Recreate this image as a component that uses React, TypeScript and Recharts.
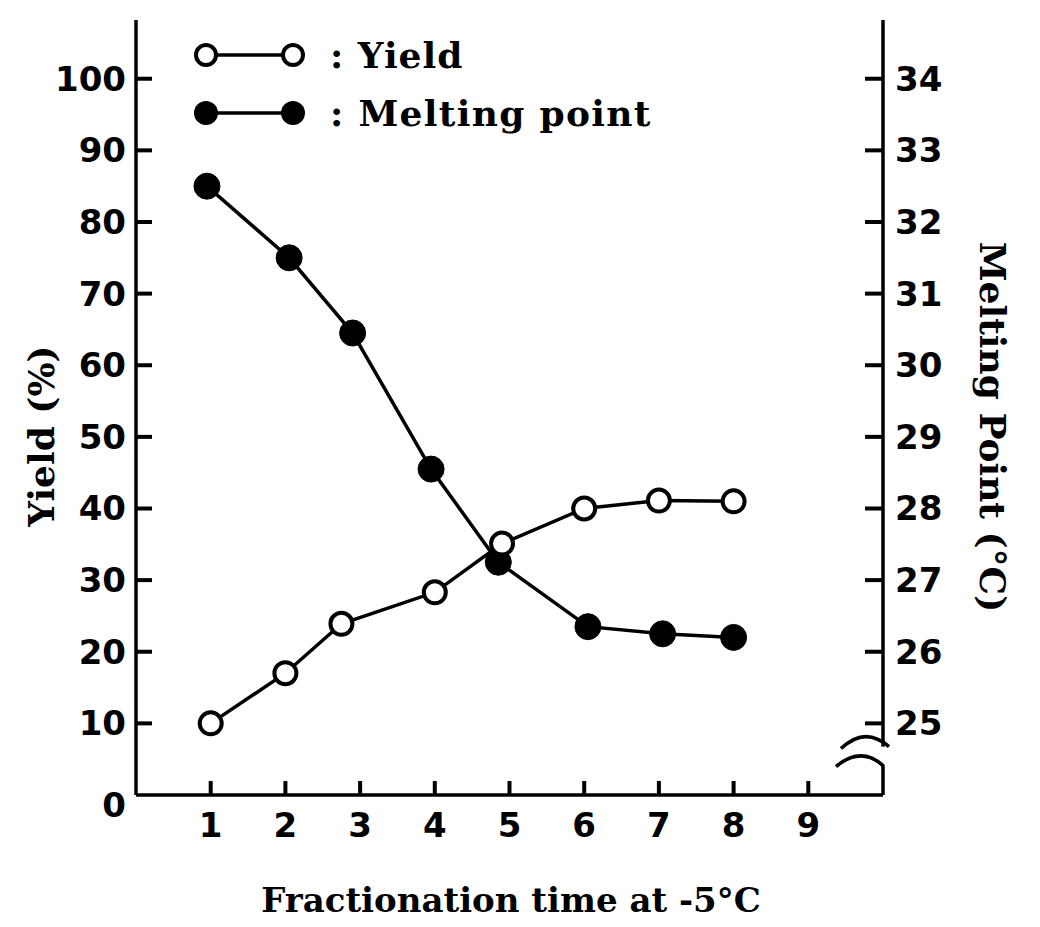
import React from 'react';
import { LineChart, Line, XAxis, YAxis, Legend, ReferenceDot, Customized } from 'recharts';

// ---- data ----
const yieldTimes = [1, 2, 2.75, 4, 4.9, 6, 7, 8];
const yieldValues = [10, 17, 23.9, 28.3, 35.1, 40, 41.1, 41];
const meltTimes = [0.95, 2.05, 2.9, 3.95, 4.85, 6.05, 7.05, 8];
const meltValues = [32.5, 31.5, 30.45, 28.55, 27.25, 26.35, 26.25, 26.2];

const xTicks = [1, 2, 3, 4, 5, 6, 7, 8, 9];
const yieldTicks = [0, 10, 20, 30, 40, 50, 60, 70, 80, 90, 100];
const meltTicks = [25, 26, 27, 28, 29, 30, 31, 32, 33, 34];

const yieldData = yieldTimes.map((t, i) => ({ time: t, yield: yieldValues[i] }));
const meltData = meltTimes.map((t, i) => ({ time: t, melt: meltValues[i] }));

const NUM_FONT = "'DejaVu Sans', sans-serif";
const SERIF_FONT = "'DejaVu Serif', serif";
const INK = '#000';

const LeftTick = (props: any) => {
  const x = Number(props.x);
  const y = Number(props.y);
  const v = props.payload.value;
  return (
    <text x={x - 10} y={v === 0 ? y + 10 : y} textAnchor="end" dominantBaseline="central"
      fontFamily={NUM_FONT} fontWeight="bold" fontSize={34} fill={INK}>{v}</text>
  );
};

const RightTick = (props: any) => {
  const x = Number(props.x);
  const y = Number(props.y);
  return (
    <text x={x + 12} y={y} textAnchor="start" dominantBaseline="central"
      fontFamily={NUM_FONT} fontWeight="bold" fontSize={34} fill={INK}>{props.payload.value}</text>
  );
};

const BottomTick = (props: any) => {
  const x = Number(props.x);
  const y = Number(props.y);
  return (
    <text x={x} y={y + 30} textAnchor="middle" dominantBaseline="central"
      fontFamily={NUM_FONT} fontWeight="bold" fontSize={34} fill={INK}>{props.payload.value}</text>
  );
};

// inward tick marks, positioned by the axis scales through ReferenceDot
const HMark = (props: any) => {
  const cx = Number(props.cx);
  const cy = Number(props.cy);
  const len = Number(props.len);
  if (!isFinite(cx) || !isFinite(cy)) return <g />;
  return <rect x={Math.min(cx, cx + len)} y={cy - 2} width={Math.abs(len)} height={4} fill={INK} />;
};

const VMark = (props: any) => {
  const cx = Number(props.cx);
  const cy = Number(props.cy);
  if (!isFinite(cx) || !isFinite(cy)) return <g />;
  return <rect x={cx - 2} y={cy - 14} width={4} height={14} fill={INK} />;
};

const BreakShape = (props: any) => {
  const cx = Number(props.cx);
  const cy = Number(props.cy);
  if (!isFinite(cx) || !isFinite(cy)) return <g />;
  return (
    <g>
      <rect x={cx - 5} y={cy - 9} width={10} height={18} fill="#fff" />
      <path d={`M ${cx - 42} ${cy - 7} Q ${cx - 18} ${cy - 30} ${cx + 6} ${cy - 9}`} fill="none" stroke={INK} strokeWidth={3.5} />
      <path d={`M ${cx - 47} ${cy + 11} Q ${cx - 22} ${cy - 10} ${cx} ${cy + 10}`} fill="none" stroke={INK} strokeWidth={3.5} />
    </g>
  );
};

const LegendContent = () => (
  <svg width={520} height={120} style={{ overflow: 'visible' }}>
    <line x1={26} x2={113} y1={30} y2={30} stroke={INK} strokeWidth={3.5} />
    <circle cx={26} cy={30} r={10} fill="#fff" stroke={INK} strokeWidth={4} />
    <circle cx={113} cy={30} r={10} fill="#fff" stroke={INK} strokeWidth={4} />
    <text x={150} y={30} dominantBaseline="central" fontFamily={SERIF_FONT} fontWeight="bold" fontSize={36} letterSpacing={1} fill={INK}>: Yield</text>
    <line x1={26} x2={113} y1={88} y2={88} stroke={INK} strokeWidth={3.5} />
    <circle cx={26} cy={88} r={12} fill={INK} />
    <circle cx={113} cy={88} r={12} fill={INK} />
    <text x={150} y={88} dominantBaseline="central" fontFamily={SERIF_FONT} fontWeight="bold" fontSize={36} letterSpacing={1.3} fill={INK}>: Melting point</text>
  </svg>
);

const AxisTitles = () => (
  <g fontFamily={SERIF_FONT} fontWeight="bold" fill={INK}>
    <text x={0} y={0} transform="translate(41,436) rotate(-90)" textAnchor="middle" dominantBaseline="central" fontSize={36}>Yield (%)</text>
    <text x={0} y={0} transform="translate(993,427) rotate(90)" textAnchor="middle" dominantBaseline="central" fontSize={36}>Melting Point (°C)</text>
    <text x={511} y={900} textAnchor="middle" dominantBaseline="central" fontSize={34}>Fractionation time at -5°C</text>
  </g>
);

export default function App() {
  const axisLine = { stroke: INK, strokeWidth: 3.5 };
  return (
    <div style={{ position: 'absolute', left: 0, top: 0, width: 1040, height: 927, background: '#fff' }}>
      <LineChart width={1040} height={927} margin={{ top: 20, right: 77, bottom: 92, left: 56 }}>
        <XAxis dataKey="time" type="number" domain={[0, 10]} ticks={xTicks} allowDataOverflow
          height={40} tickSize={0} tickMargin={0} tickLine={false}
          axisLine={axisLine} tick={<BottomTick />} interval={0} />
        <YAxis yAxisId="left" orientation="left" domain={[0, 108.2]} ticks={yieldTicks} allowDataOverflow
          width={80} tickSize={0} tickMargin={0} tickLine={false}
          axisLine={axisLine} tick={<LeftTick />} interval={0} />
        <YAxis yAxisId="right" orientation="right" domain={[24, 34.82]} ticks={meltTicks} allowDataOverflow
          width={80} tickSize={0} tickMargin={0} tickLine={false}
          axisLine={axisLine} tick={<RightTick />} interval={0} />
        {yieldTicks.filter((v) => v > 0).map((v) => (
          <ReferenceDot key={`l${v}`} yAxisId="left" x={0} y={v} r={0} ifOverflow="visible"
            shape={<HMark len={16} />} />
        ))}
        {meltTicks.map((v) => (
          <ReferenceDot key={`r${v}`} yAxisId="right" x={10} y={v} r={0} ifOverflow="visible"
            shape={<HMark len={-18} />} />
        ))}
        {xTicks.map((v) => (
          <ReferenceDot key={`x${v}`} yAxisId="left" x={v} y={0} r={0} ifOverflow="visible"
            shape={<VMark />} />
        ))}
        <Line yAxisId="right" data={meltData} dataKey="melt" type="linear" stroke={INK} strokeWidth={3.5}
          dot={{ r: 13, fill: INK, stroke: INK, strokeWidth: 1 }} isAnimationActive={false} />
        <Line yAxisId="left" data={yieldData} dataKey="yield" type="linear" stroke={INK} strokeWidth={3.5}
          dot={{ r: 11, fill: '#fff', stroke: INK, strokeWidth: 4 }} isAnimationActive={false} />
        <ReferenceDot yAxisId="right" x={10} y={24.55} r={0} shape={<BreakShape />} ifOverflow="visible" />
        <Legend layout="vertical" align="center" verticalAlign="middle" content={<LegendContent />}
          wrapperStyle={{ position: 'absolute', top: 25, left: 180, width: 520, height: 120 }} />
        <Customized component={<AxisTitles />} />
      </LineChart>
    </div>
  );
}
